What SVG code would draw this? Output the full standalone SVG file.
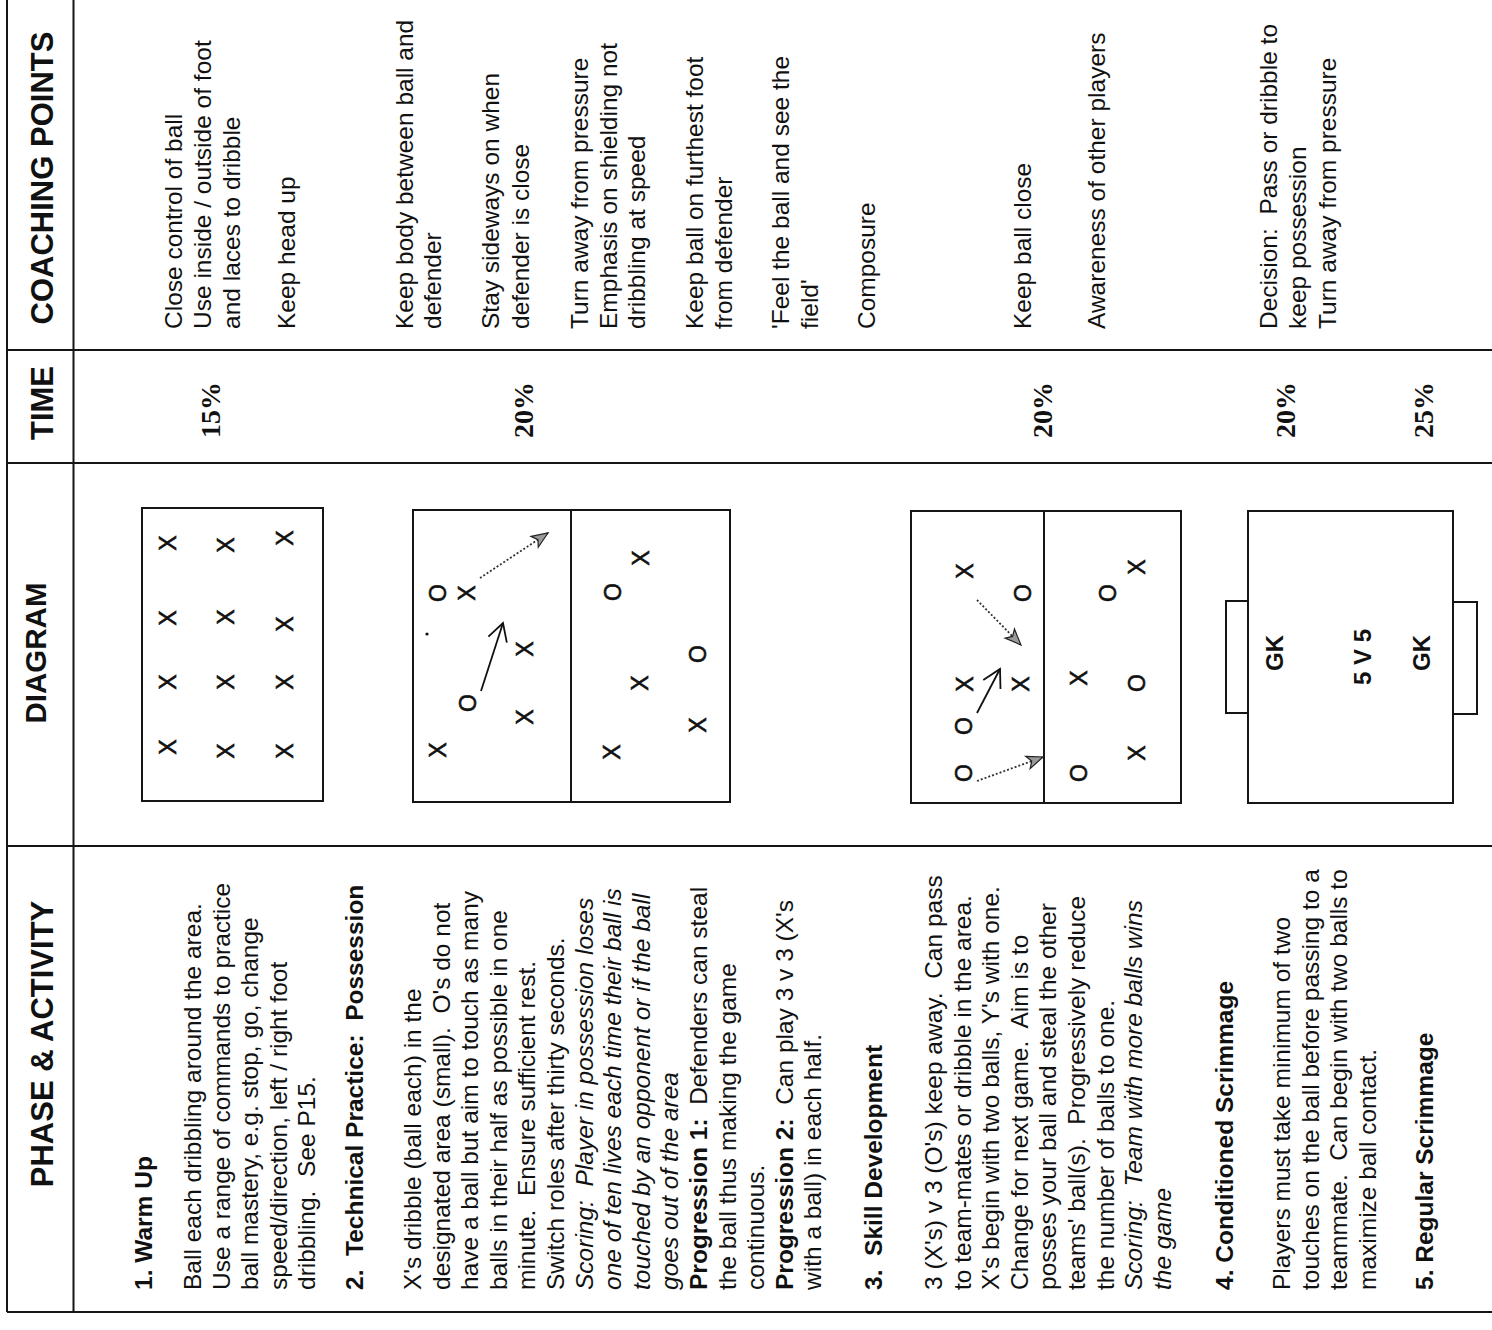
<svg xmlns="http://www.w3.org/2000/svg" width="1492" height="1330" viewBox="0 0 1492 1330">
  <defs>
    <style>
      .grid { stroke: #151515; stroke-width: 2; fill: none; }
      .field { stroke: #151515; stroke-width: 2; fill: none; }
      .hd { font-family: "Liberation Sans", Arial, sans-serif; font-weight: bold; font-size: 31px; fill: #111; text-anchor: middle; }
      .t { font-family: "Liberation Sans", Arial, sans-serif; font-size: 24.5px; fill: #111; white-space: pre; }
      .t text { white-space: pre; }
      .b { font-weight: bold; }
      .i { font-style: italic; }
      .pct { font-family: "Liberation Serif", "Times New Roman", serif; font-weight: bold; font-size: 28px; fill: #111; text-anchor: middle; }
      .mk { font-family: "Liberation Sans", Arial, sans-serif; font-size: 23px; fill: #111; stroke: #111; stroke-width: 0.6; text-anchor: middle; dominant-baseline: central; }
      .lbl { font-family: "Liberation Sans", Arial, sans-serif; font-weight: bold; font-size: 24px; fill: #111; text-anchor: middle; }
      .run { stroke: #111; stroke-width: 1.8; fill: none; }
      .pass { stroke: #333; stroke-width: 1.8; stroke-dasharray: 2 2; fill: none; }
    </style>
    <!-- open V head for a player run -->
    <marker id="runHead" markerUnits="userSpaceOnUse" markerWidth="24" markerHeight="24" refX="20" refY="10" orient="auto" overflow="visible">
      <path d="M2.5,0.3 L20,10 L2.5,19.7" fill="none" stroke="#111" stroke-width="1.8"/>
    </marker>
    <!-- shaded notched head for a pass -->
    <marker id="passHead" markerUnits="userSpaceOnUse" markerWidth="20" markerHeight="16" refX="16" refY="6.5" orient="auto" overflow="visible">
      <path d="M0,0 L16,6.5 L0,13 L4,6.5 Z" fill="#9a9a9a" stroke="#222" stroke-width="1.2"/>
    </marker>
  </defs>

  <rect width="1492" height="1330" fill="#ffffff"/>

  <!-- table rules (page is turned a quarter turn) -->
  <g id="table-grid" class="grid">
    <line x1="7" y1="0" x2="7" y2="1312"/>
    <line x1="73.5" y1="0" x2="73.5" y2="1312"/>
    <line x1="7" y1="350" x2="1492" y2="350"/>
    <line x1="7" y1="463" x2="1492" y2="463"/>
    <line x1="7" y1="846" x2="1492" y2="846"/>
    <line x1="7" y1="1312" x2="1492" y2="1312"/>
  </g>

  <!-- column headings -->
  <g id="headings" transform="translate(0,1330) rotate(-90)">
    <text class="hd" x="286" y="53">PHASE &amp; ACTIVITY</text>
    <text class="hd" x="677" y="46" style="font-size:29.5px">DIAGRAM</text>
    <text class="hd" x="927" y="53">TIME</text>
    <text class="hd" x="1152" y="53">COACHING POINTS</text>
  </g>

  <!-- phase & activity column -->
  <g id="phase-activity" class="t" transform="translate(0,1330) rotate(-90)">
    <text xml:space="preserve" x="40" y="152" class="b">1. Warm Up</text>
    <text xml:space="preserve" x="40" y="201">Ball each dribbling around the area.</text>
    <text xml:space="preserve" x="40" y="229.6">Use a range of commands to practice</text>
    <text xml:space="preserve" x="40" y="258.2">ball mastery, e.g. stop, go, change</text>
    <text xml:space="preserve" x="40" y="286.8">speed/direction, left / right foot</text>
    <text xml:space="preserve" x="40" y="315.4">dribbling.  See P15.</text>
    <text xml:space="preserve" x="40" y="363" class="b">2.  Technical Practice:  Possession</text>
    <text xml:space="preserve" x="40" y="421">X's dribble (ball each) in the</text>
    <text xml:space="preserve" x="40" y="449.6">designated area (small).  O's do not</text>
    <text xml:space="preserve" x="40" y="478.2">have a ball but aim to touch as many</text>
    <text xml:space="preserve" x="40" y="506.8">balls in their half as possible in one</text>
    <text xml:space="preserve" x="40" y="535.4">minute.  Ensure sufficient rest.</text>
    <text xml:space="preserve" x="40" y="564">Switch roles after thirty seconds.</text>
    <text xml:space="preserve" x="40" y="592.6" class="i">Scoring:  Player in possession loses</text>
    <text xml:space="preserve" x="40" y="621.2" class="i">one of ten lives each time their ball is</text>
    <text xml:space="preserve" x="40" y="649.8" class="i">touched by an opponent or if the ball</text>
    <text xml:space="preserve" x="40" y="678.4" class="i">goes out of the area</text>
    <text xml:space="preserve" x="40" y="707"><tspan class="b">Progression 1:</tspan>  Defenders can steal</text>
    <text xml:space="preserve" x="40" y="735.6">the ball thus making the game</text>
    <text xml:space="preserve" x="40" y="764.2">continuous.</text>
    <text xml:space="preserve" x="40" y="792.8"><tspan class="b">Progression 2:</tspan>  Can play 3 v 3 (X's</text>
    <text xml:space="preserve" x="40" y="821.4">with a ball) in each half.</text>
    <text xml:space="preserve" x="40" y="882" class="b">3.  Skill Development</text>
    <text xml:space="preserve" x="40" y="942">3 (X's) v 3 (O's) keep away.  Can pass</text>
    <text xml:space="preserve" x="40" y="970.6">to team-mates or dribble in the area.</text>
    <text xml:space="preserve" x="40" y="999.2">X's begin with two balls, Y's with one.</text>
    <text xml:space="preserve" x="40" y="1027.8">Change for next game.  Aim is to</text>
    <text xml:space="preserve" x="40" y="1056.4">posses your ball and steal the other</text>
    <text xml:space="preserve" x="40" y="1085">teams' ball(s).  Progressively reduce</text>
    <text xml:space="preserve" x="40" y="1113.6">the number of balls to one.</text>
    <text xml:space="preserve" x="40" y="1142.2" class="i">Scoring:  Team with more balls wins</text>
    <text xml:space="preserve" x="40" y="1170.8" class="i">the game</text>
    <text xml:space="preserve" x="40" y="1233" class="b">4. Conditioned Scrimmage</text>
    <text xml:space="preserve" x="40" y="1290">Players must take minimum of two</text>
    <text xml:space="preserve" x="40" y="1318.6">touches on the ball before passing to a</text>
    <text xml:space="preserve" x="40" y="1347.2">teammate.  Can begin with two balls to</text>
    <text xml:space="preserve" x="40" y="1375.8">maximize ball contact.</text>
    <text xml:space="preserve" x="40" y="1433" class="b">5. Regular Scrimmage</text>
  </g>

  <!-- time column -->
  <g id="time" transform="translate(0,1330) rotate(-90)">
    <text class="pct" x="920" y="220">15%</text>
    <text class="pct" x="920" y="533">20%</text>
    <text class="pct" x="920" y="1052">20%</text>
    <text class="pct" x="920" y="1295">20%</text>
    <text class="pct" x="920" y="1433">25%</text>
  </g>

  <!-- coaching points column -->
  <g id="coaching-points" class="t" transform="translate(0,1330) rotate(-90)">
    <text xml:space="preserve" x="1001" y="182">Close control of ball</text>
    <text xml:space="preserve" x="1001" y="211">Use inside / outside of foot</text>
    <text xml:space="preserve" x="1001" y="240">and laces to dribble</text>
    <text xml:space="preserve" x="1001" y="295">Keep head up</text>
    <text xml:space="preserve" x="1001" y="413">Keep body between ball and</text>
    <text xml:space="preserve" x="1001" y="441">defender</text>
    <text xml:space="preserve" x="1001" y="499">Stay sideways on when</text>
    <text xml:space="preserve" x="1001" y="529">defender is close</text>
    <text xml:space="preserve" x="1001" y="588">Turn away from pressure</text>
    <text xml:space="preserve" x="1001" y="616.5">Emphasis on shielding not</text>
    <text xml:space="preserve" x="1001" y="645">dribbling at speed</text>
    <text xml:space="preserve" x="1001" y="703">Keep ball on furthest foot</text>
    <text xml:space="preserve" x="1001" y="731.5">from defender</text>
    <text xml:space="preserve" x="1001" y="789">'Feel the ball and see the</text>
    <text xml:space="preserve" x="1001" y="817.5">field'</text>
    <text xml:space="preserve" x="1001" y="874.5">Composure</text>
    <text xml:space="preserve" x="1001" y="1031">Keep ball close</text>
    <text xml:space="preserve" x="1001" y="1105">Awareness of other players</text>
    <text xml:space="preserve" x="1001" y="1277">Decision:  Pass or dribble to</text>
    <text xml:space="preserve" x="1001" y="1306">keep possession</text>
    <text xml:space="preserve" x="1001" y="1336">Turn away from pressure</text>
  </g>

  <!-- 1: warm-up grid of dribblers -->
  <g id="diagram-warmup">
    <rect class="field" x="142" y="508" width="181" height="293"/>
    <g transform="translate(0,1330) rotate(-90)">
      <text class="mk" x="787" y="168">X</text>
      <text class="mk" x="785" y="226">X</text>
      <text class="mk" x="792" y="285">X</text>
      <text class="mk" x="712" y="168">X</text>
      <text class="mk" x="713" y="226">X</text>
      <text class="mk" x="706" y="285">X</text>
      <text class="mk" x="648" y="168">X</text>
      <text class="mk" x="648" y="226">X</text>
      <text class="mk" x="648" y="285">X</text>
      <text class="mk" x="583" y="168">X</text>
      <text class="mk" x="579" y="226">X</text>
      <text class="mk" x="579" y="285">X</text>
    </g>
  </g>

  <!-- 2: possession, two halves -->
  <g id="diagram-possession">
    <rect class="field" x="413" y="510" width="317" height="292"/>
    <line class="field" x1="571" y1="510" x2="571" y2="802"/>
    <circle cx="427" cy="634" r="1.6" fill="#111"/>
    <g transform="translate(0,1330) rotate(-90)">
      <text class="mk" x="737" y="438">O</text>
      <text class="mk" x="737" y="467">X</text>
      <text class="mk" x="681" y="525">X</text>
      <text class="mk" x="627" y="468">O</text>
      <text class="mk" x="613" y="525">X</text>
      <text class="mk" x="580" y="438">X</text>
      <text class="mk" x="772" y="641">X</text>
      <text class="mk" x="738" y="613">O</text>
      <text class="mk" x="676" y="698">O</text>
      <text class="mk" x="647" y="640">X</text>
      <text class="mk" x="605" y="698">X</text>
      <text class="mk" x="578" y="612">X</text>
    </g>
  </g>

  <!-- 3: skill development, two halves -->
  <g id="diagram-skill">
    <rect class="field" x="911" y="511" width="270" height="292"/>
    <line class="field" x1="1044" y1="511" x2="1044" y2="803"/>
    <g transform="translate(0,1330) rotate(-90)">
      <text class="mk" x="759" y="965">X</text>
      <text class="mk" x="737" y="1023">O</text>
      <text class="mk" x="646" y="965">X</text>
      <text class="mk" x="646" y="1021">X</text>
      <text class="mk" x="604" y="964">O</text>
      <text class="mk" x="557" y="964">O</text>
      <text class="mk" x="763" y="1137">X</text>
      <text class="mk" x="737" y="1108">O</text>
      <text class="mk" x="652" y="1079">X</text>
      <text class="mk" x="647" y="1137">O</text>
      <text class="mk" x="577" y="1137">X</text>
      <text class="mk" x="557" y="1079">O</text>
    </g>
  </g>

  <!-- 4: small-sided game with goals -->
  <g id="diagram-scrimmage">
    <rect class="field" x="1248" y="511" width="205" height="292"/>
    <rect class="field" x="1226" y="601" width="22" height="112"/>
    <rect class="field" x="1453" y="602" width="24" height="112"/>
    <g transform="translate(0,1330) rotate(-90)">
      <text class="lbl" x="677" y="1283">GK</text>
      <text class="lbl" x="673" y="1371">5 V 5</text>
      <text class="lbl" x="677" y="1430">GK</text>
    </g>
  </g>

  <!-- runs and passes -->
  <g id="connectors">
    <path class="run" d="M481,691 L503,623" marker-end="url(#runHead)"/>
    <path class="pass" d="M480,578 L548,533" marker-end="url(#passHead)"/>
    <path class="run" d="M977,713 L1000,669" marker-end="url(#runHead)"/>
    <path class="pass" d="M977,600 L1021,645" marker-end="url(#passHead)"/>
    <path class="pass" d="M977,781 L1043,757" marker-end="url(#passHead)"/>
  </g>
</svg>
